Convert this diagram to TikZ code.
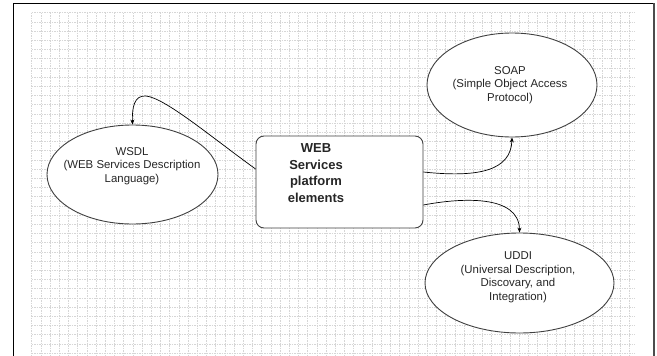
\documentclass[tikz,border=0pt]{standalone}
\usepackage{fontspec}
\setmainfont{Liberation Sans}
\usetikzlibrary{arrows.meta,shapes.geometric}
\begin{document}
\begin{tikzpicture}[x=1pt,y=-1pt,
  gridline/.style={draw=black!16, line width=0.5pt, dash pattern=on 1.5pt off 1pt},
  oval/.style={ellipse, draw=black!75, line width=0.9pt, fill=white, inner sep=0pt},
  ovaltext/.style={align=center, font=\fontsize{11.4}{13.5}\selectfont, text=black!85, inner sep=0pt},
  box/.style={rectangle, rounded corners=8pt, draw=black!75, line width=0.9pt, fill=white, minimum width=167pt, minimum height=92pt, inner sep=0pt},
  boxtext/.style={align=center, font=\fontsize{13}{16.7}\selectfont\bfseries, text=black!85, inner sep=0pt},
  conn/.style={draw=black, line width=0.7pt, -{Stealth[length=5pt,width=4pt]}}
]
\useasboundingbox (0,0) rectangle (657,356);
\fill[white] (0,0) rectangle (657,356);
% grid
\foreach \x in {31.7,40.9,...,636} \draw[gridline] (\x,12.7) -- (\x,356);
\foreach \y in {12.7,21.9,...,356} \draw[gridline] (31.7,\y) -- (635,\y);
% frame
\draw[black, line width=1pt] (13,356) -- (13,3.5) -- (653,3.5);
\draw[black!70, line width=2pt] (653.5,3) -- (653.5,356);
% nodes
\node[box] (web) at (339.5,182) {};
\node[boxtext] (webtext) at (316,173) {WEB\\Services\\platform\\elements};
\node[oval, minimum width=171pt, minimum height=99pt] (wsdl) at (132.5,174.5) {};
\node[ovaltext] (wsdltext) at (132,166) {WSDL\\(WEB Services Description\\Language)};
\node[oval, minimum width=170pt, minimum height=104pt] (soap) at (512,85) {};
\node[ovaltext] (soaptext) at (510,85) {SOAP\\(Simple Object Access\\Protocol)};
\node[oval, minimum width=189pt, minimum height=100pt] (uddi) at (519.5,283) {};
\node[ovaltext] (udditext) at (518,277.5) {UDDI\\(Universal Description,\\Discovary, and\\Integration)};
% connectors
\draw[conn] ([yshift=13pt]web.west) .. controls (210,136) and (165,98) .. (146,96) .. controls (134,95) and (132,108) .. (wsdl.north);
\draw[conn] ([yshift=10pt]web.east) .. controls (480,178) and (511,170) .. (soap.south);
\draw[conn] ([yshift=-23pt]web.east) .. controls (460,198) and (519,194) .. (uddi.north);
\end{tikzpicture}
\end{document}
